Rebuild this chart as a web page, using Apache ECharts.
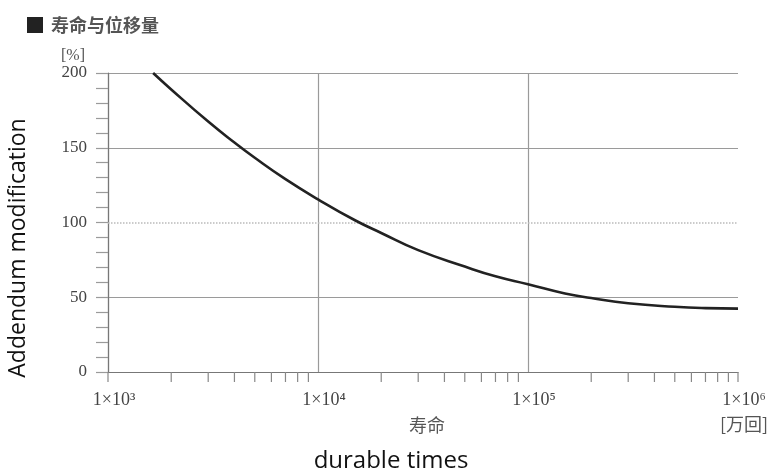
<!DOCTYPE html>
<html>
<head>
<meta charset="utf-8">
<script src="https://cdn.jsdelivr.net/npm/echarts@6/dist/echarts.min.js"></script>
<style>
  html, body { margin: 0; padding: 0; background: #fff; }
  #main { width: 784px; height: 476px; }
</style>
</head>
<body>
<div id="main"></div>
<script>
  // 寿命 [万回] vs 位移量 [%]
  const lifeValues = [1640, 2000, 3000, 4000, 5000, 7000, 10000, 15000, 20000, 30000, 50000, 70000,
    100000, 150000, 200000, 300000, 500000, 700000, 1000000];
  const shiftValues = [200, 189, 167.5, 153.5, 143.3, 129, 115.5, 101.5, 93, 81.5, 70.5, 64,
    58.7, 52.5, 49.5, 46, 43.6, 42.7, 42.4];
  const xTickValues = [1000, 2000, 3000, 4000, 5000, 6000, 7000, 8000, 9000,
    20000, 30000, 40000, 50000, 60000, 70000, 80000, 90000,
    200000, 300000, 400000, 500000, 600000, 700000, 800000, 900000, 1000000];
  const xTickLabels = ['1×10³', '1×10⁴', '1×10⁵', '1×10⁶'];
  const yTicks = [0, 50, 100, 150, 200];

  const serif = "'Liberation Serif', 'DejaVu Serif', serif";
  const gridColor = '#9a9a9a';

  let myChart = echarts.init(document.getElementById('main'));

  let option = {
    backgroundColor: '#fff',
    animation: false,
    title: {
      text: '{sq|■}{t|寿命与位移量}',
      left: 20,
      top: 10,
      textStyle: {
        rich: {
          sq: { fontSize: 20, color: '#222', fontFamily: "'Noto Sans CJK SC'" },
          t: { fontSize: 18, fontWeight: 'bold', color: '#555', fontFamily: "'Noto Sans CJK SC'", padding: [0, 0, 0, 6] }
        }
      }
    },
    grid: {
      left: 108,
      right: 46,
      top: 73,
      bottom: 104
    },
    graphic: [
      { type: 'text', left: 61, top: 48, style: { text: '[%]', font: '16px ' + serif, fill: '#555' } },
      { type: 'text', x: 427, y: 425, style: { text: '寿命', font: '18px "Noto Sans CJK SC"', fill: '#555', align: 'center', verticalAlign: 'middle' } },
      { type: 'text', x: 744, y: 424, style: { text: '[万回]', font: '18px "Noto Sans CJK SC"', fill: '#555', align: 'center', verticalAlign: 'middle' } },
      { type: 'text', x: 391, y: 461, style: { text: 'durable times', font: '24px "Open Sans"', fill: '#111', align: 'center', verticalAlign: 'middle' } },
      { type: 'text', x: 18, y: 248, rotation: Math.PI / 2, style: { text: 'Addendum modification', font: '23px "Open Sans"', fill: '#111', align: 'center', verticalAlign: 'middle' } }
    ],
    xAxis: {
      type: 'log',
      logBase: 10,
      min: 1000,
      max: 1000000,
      splitNumber: 3,
      axisLine: { show: true, lineStyle: { color: '#777', width: 1.2 } },
      axisTick: { show: false },
      axisLabel: {
        margin: 19,
        fontFamily: serif,
        fontSize: 18,
        color: '#444',
        padding: [0, 0, 0, 12],
        formatter: function (v) {
          return xTickLabels[Math.round(Math.log10(v)) - 3];
        }
      },
      splitLine: {
        show: true,
        showMinLine: false,
        showMaxLine: false,
        lineStyle: { color: gridColor, width: 1.2 }
      }
    },
    yAxis: {
      type: 'value',
      min: 0,
      max: 200,
      interval: 50,
      axisLine: { show: true, lineStyle: { color: '#777', width: 1.2 } },
      axisTick: { show: true, length: 12, lineStyle: { color: gridColor, width: 1.2 } },
      minorTick: { show: true, splitNumber: 5, length: 12, lineStyle: { color: gridColor, width: 1.2 } },
      axisLabel: {
        margin: 21,
        fontFamily: serif,
        fontSize: 17,
        color: '#444',
        formatter: function (v) { return yTicks.indexOf(v) >= 0 ? String(v) : ''; }
      },
      splitLine: {
        show: true,
        lineStyle: { color: [gridColor, gridColor, 'rgba(0,0,0,0)', gridColor, gridColor], width: 1.2 }
      }
    },
    series: [
      {
        type: 'line',
        data: lifeValues.map((x, i) => [x, shiftValues[i]]),
        smooth: 0.5,
        showSymbol: false,
        lineStyle: { color: '#222', width: 2.6 },
        z: 5,
        markLine: {
          silent: true,
          symbol: 'none',
          label: { show: false },
          lineStyle: { color: '#bbb', type: 'dotted', width: 1.5 },
          data: [{ yAxis: 100 }]
        }
      },
      {
        type: 'custom',
        silent: true,
        clip: false,
        z: 3,
        data: xTickValues.map(v => [v, 0]),
        renderItem: function (params, api) {
          const p = api.coord([api.value(0), 0]);
          return {
            type: 'line',
            shape: { x1: p[0], y1: p[1], x2: p[0], y2: p[1] + 10 },
            style: { stroke: '#888', lineWidth: 1.2 }
          };
        }
      }
    ]
  };

  myChart.setOption(option);
</script>
</body>
</html>
